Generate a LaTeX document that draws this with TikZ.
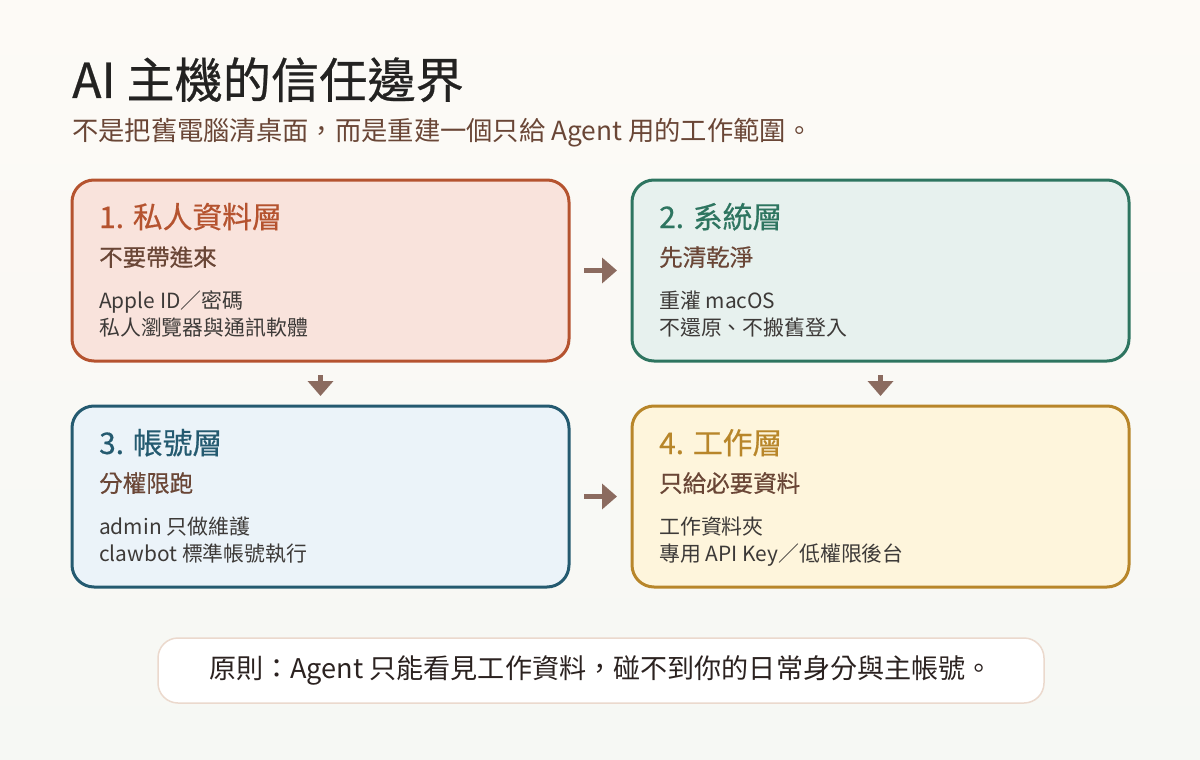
\documentclass[tikz,border=0pt]{standalone}
\usepackage{fontspec}
\setmainfont{Noto Sans CJK TC}
\newfontfamily\medfont[FakeBold=0.5]{Noto Sans CJK TC}
\usetikzlibrary{arrows.meta}
\definecolor{bgtop}{HTML}{FDFAF6}
\definecolor{bgbot}{HTML}{F6F8F4}
\definecolor{titlec}{HTML}{232221}
\definecolor{subc}{HTML}{6A4636}
\definecolor{bodyc}{HTML}{3D3A38}
\definecolor{arrowc}{HTML}{8B6B5F}
\definecolor{c1}{HTML}{B5532F}\definecolor{f1}{HTML}{F9E3DC}
\definecolor{c2}{HTML}{2E7560}\definecolor{f2}{HTML}{E7F1EE}
\definecolor{c3}{HTML}{245A70}\definecolor{f3}{HTML}{EBF3F9}
\definecolor{c4}{HTML}{B8862A}\definecolor{f4}{HTML}{FEF5DC}
\definecolor{footb}{HTML}{EBD9CD}
\definecolor{footc}{HTML}{2B2220}
\tikzset{
  layer/.style={draw, rounded corners=22pt, line width=3pt, minimum width=497pt, minimum height=181pt, inner sep=0pt},
  ltitle/.style={anchor=base west, inner sep=0pt, font=\medfont\fontsize{29.8}{32}\selectfont},
  lsub/.style={anchor=base west, inner sep=0pt, text=subc, font=\medfont\fontsize{23.5}{26}\selectfont},
  lbody/.style={anchor=base west, inner sep=0pt, text=bodyc, font=\fontsize{20.9}{23}\selectfont},
  flow/.style={draw=arrowc, line width=5pt, -{Triangle[length=15pt,width=25pt]}},
}
\begin{document}
\begin{tikzpicture}[x=1pt,y=-1pt]
\shade[top color=bgtop,bottom color=bgbot] (0,0) rectangle (1200,760);
\useasboundingbox (0,0) rectangle (1200,760);

\node[anchor=base west, inner sep=0pt, text=titlec, font=\medfont\fontsize{48.2}{50}\selectfont] (title) at (72,98) {AI 主機的信任邊界};
\node[anchor=base west, inner sep=0pt, text=subc, font=\fontsize{26.3}{28}\selectfont] (subtitle) at (72,140) {不是把舊電腦清桌面，而是重建一個只給 Agent 用的工作範圍。};

\node[layer, draw=c1, fill=f1] (b1) at (320.5,270.5) {};
\node[layer, draw=c2, fill=f2] (b2) at (880.5,270.5) {};
\node[layer, draw=c3, fill=f3] (b3) at (320.5,496.5) {};
\node[layer, draw=c4, fill=f4] (b4) at (880.5,496.5) {};

\node[ltitle, text=c1] (t1) at (99,228) {1. 私人資料層};
\node[lsub] (s1) at (99,266) {不要帶進來};
\node[lbody] (p1a) at (99,308) {Apple ID／密碼};
\node[lbody] (p1b) at (99,335) {私人瀏覽器與通訊軟體};

\node[ltitle, text=c2] (t2) at (659,228) {2. 系統層};
\node[lsub] (s2) at (659,266) {先清乾淨};
\node[lbody] (p2a) at (659,308) {重灌 macOS};
\node[lbody] (p2b) at (659,335) {不還原、不搬舊登入};

\node[ltitle, text=c3] (t3) at (99,454) {3. 帳號層};
\node[lsub] (s3) at (99,492) {分權限跑};
\node[lbody] (p3a) at (99,534) {admin 只做維護};
\node[lbody] (p3b) at (99,561) {clawbot 標準帳號執行};

\node[ltitle, text=c4] (t4) at (659,454) {4. 工作層};
\node[lsub] (s4) at (659,492) {只給必要資料};
\node[lbody] (p4a) at (659,534) {工作資料夾};
\node[lbody] (p4b) at (659,561) {專用 API Key／低權限後台};

\draw[flow, shorten <=13.5pt, shorten >=13.5pt] (b1.east) -- (b2.west);
\draw[flow, shorten <=13.5pt, shorten >=13.5pt] (b3.east) -- (b4.west);
\draw[flow, shorten <=12.5pt, shorten >=8.5pt] (b1.south) -- (b3.north);
\draw[flow, shorten <=12.5pt, shorten >=8.5pt] (b2.south) -- (b4.north);

\node[draw=footb, fill=white, line width=1.5pt, rounded corners=20pt, minimum width=886pt, minimum height=65pt, inner sep=0pt, text=footc, font=\fontsize{27.1}{29}\selectfont] (foot) at (601,670.5) {原則：Agent 只能看見工作資料，碰不到你的日常身分與主帳號。};
\end{tikzpicture}
\end{document}
